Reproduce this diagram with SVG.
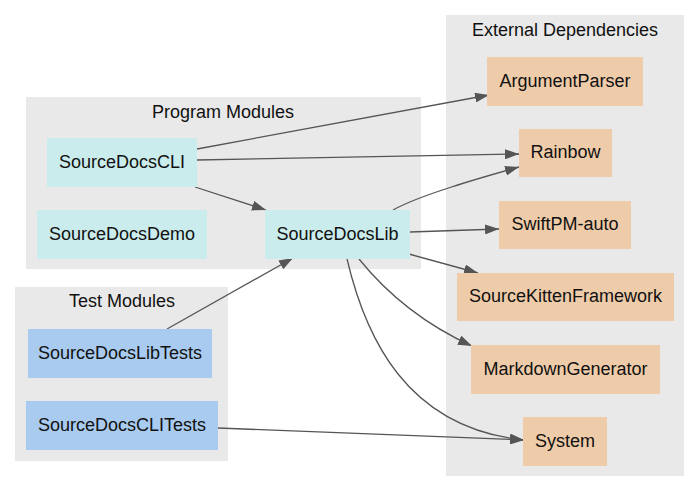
<svg xmlns="http://www.w3.org/2000/svg" width="700" height="492" viewBox="0 0 700 492">
<style>
.cl{fill:#e9e9e9;stroke:none}
.t{font-family:"Liberation Sans",Arial,sans-serif;font-size:18px;fill:#111;text-anchor:middle}
.p{fill:#cbecec}
.s{fill:#a9cbef}
.x{fill:#efcca9}
.e{fill:none;stroke:#555;stroke-width:1.3;marker-end:url(#a)}
</style>
<defs>
<marker id="a" viewBox="0 0 14 10" refX="14" refY="5" markerWidth="14" markerHeight="10" markerUnits="userSpaceOnUse" orient="auto">
<path d="M0,0 L14,5 L0,10 z" fill="#555"/>
</marker>
</defs>
<rect width="700" height="492" fill="#fff"/>
<g id="cluster-program">
<rect class="cl" x="26" y="97" width="395" height="172"/>
<text class="t" x="223" y="118">Program Modules</text>
</g>
<g id="cluster-test">
<rect class="cl" x="15" y="287" width="213" height="174"/>
<text class="t" x="122" y="307">Test Modules</text>
</g>
<g id="cluster-external">
<rect class="cl" x="446" y="15" width="238" height="461"/>
<text class="t" x="565" y="36">External Dependencies</text>
</g>
<g id="connectors">
<path class="e" d="M197,149 L489,95"/>
<path class="e" d="M197,160 L519,154"/>
<path class="e" d="M195,187 L266,210"/>
<path class="e" d="M393,210 C420,195 480,178 519,167"/>
<path class="e" d="M410,232 L499,229"/>
<path class="e" d="M409,254 L478,273"/>
<path class="e" d="M359,259 C380,285 415,320 472,346"/>
<path class="e" d="M347,259 C365,335 405,428 524,440"/>
<path class="e" d="M167,329 L293,258"/>
<path class="e" d="M218,428 L524,440"/>
</g>
<g id="SourceDocsCLI"><rect class="p" x="47" y="138" width="150" height="49"/><text class="t" x="122" y="167.5">SourceDocsCLI</text></g>
<g id="SourceDocsDemo"><rect class="p" x="37" y="210" width="170" height="49"/><text class="t" x="122" y="239.5">SourceDocsDemo</text></g>
<g id="SourceDocsLib"><rect class="p" x="265" y="210" width="145" height="49"/><text class="t" x="337.5" y="239.5">SourceDocsLib</text></g>
<g id="SourceDocsLibTests"><rect class="s" x="28" y="329" width="184" height="49"/><text class="t" x="120" y="358.5">SourceDocsLibTests</text></g>
<g id="SourceDocsCLITests"><rect class="s" x="26" y="401" width="192" height="49"/><text class="t" x="122" y="430.5">SourceDocsCLITests</text></g>
<g id="ArgumentParser"><rect class="x" x="487" y="57" width="156" height="49"/><text class="t" x="565" y="86.5">ArgumentParser</text></g>
<g id="Rainbow"><rect class="x" x="519" y="129" width="93" height="48"/><text class="t" x="565.5" y="158">Rainbow</text></g>
<g id="SwiftPM-auto"><rect class="x" x="499" y="201" width="132" height="48"/><text class="t" x="565" y="230">SwiftPM-auto</text></g>
<g id="SourceKittenFramework"><rect class="x" x="457" y="273" width="217" height="48"/><text class="t" x="565.5" y="302">SourceKittenFramework</text></g>
<g id="MarkdownGenerator"><rect class="x" x="471" y="345" width="189" height="49"/><text class="t" x="565.5" y="374.5">MarkdownGenerator</text></g>
<g id="System"><rect class="x" x="523" y="417" width="84" height="49"/><text class="t" x="565" y="446.5">System</text></g>
</svg>
